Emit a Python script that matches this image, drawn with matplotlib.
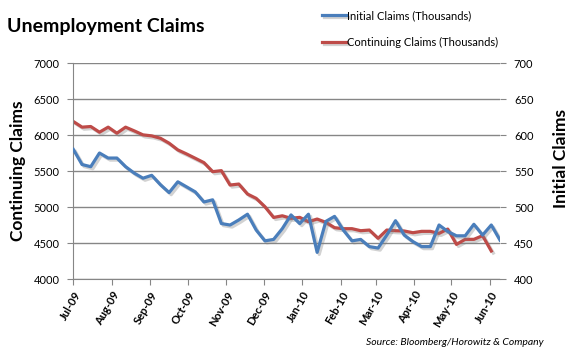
import datetime as dt
import matplotlib
matplotlib.use('Agg')
import matplotlib.pyplot as plt
import matplotlib.dates as mdates
import matplotlib.patheffects as pe

# weekly data, first week at start_date
start_date = dt.date(2009, 7, 3)

initial = [580, 559, 556, 575, 568, 568, 556, 547, 540, 544,
           531, 520, 535, 528, 521, 507, 510, 477, 475, 482,
           490, 468, 453, 455, 470, 489, 477, 490, 437, 480,
           487, 468, 453, 455, 445, 443, 461, 481, 461, 452,
           445, 445, 475, 466, 460, 460, 476, 461, 475, 454]

continuing = [6187, 6109, 6118, 6039, 6109, 6025, 6109, 6057, 6002, 5988,
              5955, 5886, 5793, 5737, 5677, 5616, 5491, 5505, 5305, 5319,
              5180, 5120, 5004, 4855, 4878, 4843, 4856, 4796, 4833, 4787,
              4713, 4699, 4699, 4671, 4680, 4565, 4680, 4671, 4667, 4643,
              4662, 4662, 4634, 4694, 4481, 4551, 4551, 4602, 4389]

dates_init = [start_date + dt.timedelta(weeks=i) for i in range(len(initial))]
dates_cont = [start_date + dt.timedelta(weeks=i) for i in range(len(continuing))]

blue = '#4a7ebb'
red = '#be4b48'
grid_c = '#868686'

plt.rcParams['font.family'] = ['Lato', 'DejaVu Sans']

fig = plt.figure(figsize=(5.73, 3.59), dpi=100)
ax = fig.add_axes([0.128, 0.2228, 0.7446, 0.6017])
ax2 = ax.twinx()

shadow = [pe.SimpleLineShadow(offset=(1.5, -1.5), shadow_color='gray', alpha=0.35), pe.Normal()]

l2, = ax.plot(dates_cont, continuing, color=red, lw=2.3, path_effects=shadow,
              label='Continuing Claims (Thousands)')
l1, = ax2.plot(dates_init, initial, color=blue, lw=2.3, path_effects=shadow,
               label='Initial Claims (Thousands)')

ax.set_ylim(4000, 7000)
ax2.set_ylim(400, 700)
ax.set_yticks(range(4000, 7001, 500))
ax2.set_yticks(range(400, 701, 50))
ax.set_xlim(dates_init[0], dates_init[-1])

ax.yaxis.grid(True, color=grid_c, lw=1)
ax.set_axisbelow(True)

for a in (ax, ax2):
    for s in a.spines.values():
        s.set_visible(False)
ax.spines['left'].set_visible(True)
ax.spines['left'].set_color(grid_c)
ax.spines['bottom'].set_visible(True)
ax.spines['bottom'].set_color(grid_c)

ax.xaxis.set_major_locator(mdates.MonthLocator(bymonthday=3))
ax.xaxis.set_major_formatter(mdates.DateFormatter('%b-%y'))
ax.tick_params(axis='x', colors=grid_c, labelcolor='black', length=4, labelsize=8)
ax.tick_params(axis='y', colors=grid_c, labelcolor='black', length=4, labelsize=8, pad=6)
ax2.tick_params(axis='y', colors=grid_c, labelcolor='black', length=4, labelsize=8, pad=6)
for lab in ax.get_xticklabels():
    lab.set_rotation(60)
    lab.set_ha('right')
    lab.set_rotation_mode('anchor')
    lab.set_fontweight('bold')

ax.set_ylabel('Continuing Claims', fontsize=12.5, fontweight='bold')
ax.yaxis.set_label_coords(-0.111, 0.5)
ax2.set_ylabel('Initial Claims', fontsize=12.5, fontweight='bold')
ax2.yaxis.set_label_coords(1.124, 0.56)

fig.text(0.012, 0.925, 'Unemployment Claims', fontsize=14, fontweight='bold', va='center')

fig.legend(handles=[l1, l2], loc='upper left', bbox_to_anchor=(0.545, 1.0),
           frameon=False, fontsize=8, handlelength=2.1, handletextpad=0.1,
           labelspacing=1.4)

fig.text(0.948, 0.045, 'Source: Bloomberg/Horowitz & Company', fontsize=7.5,
         style='italic', ha='right', va='center')

fig.savefig('out.png', dpi=100)
